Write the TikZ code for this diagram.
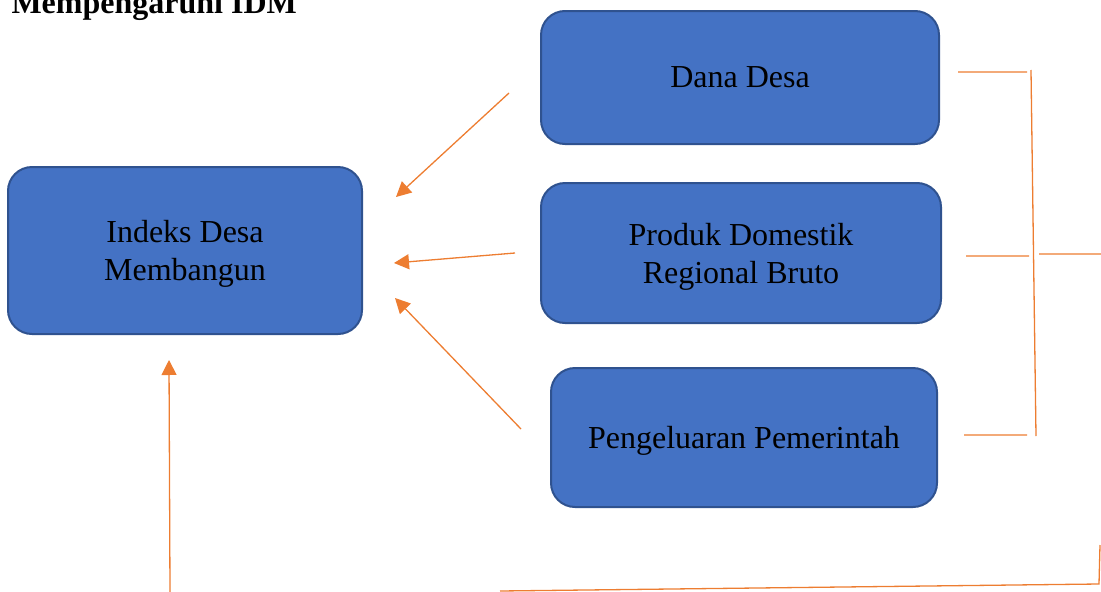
\documentclass[tikz,border=0pt]{standalone}
\usepackage{fontspec}
\setmainfont{Liberation Serif}
\usetikzlibrary{arrows.meta}
\definecolor{boxblue}{HTML}{4472C4}
\definecolor{boxline}{HTML}{2F528F}
\definecolor{linkorange}{HTML}{ED7D31}

\begin{document}
\begin{tikzpicture}[
x=1pt, y=-1pt,
font=\fontsize{32}{38}\selectfont,
varbox/.style={
rectangle,
rounded corners=24pt,
draw=boxline,
line width=2pt,
fill=boxblue,
align=center,
inner sep=0 pt,
text depth=-3pt,
},
link/.style={linkorange, line width=1.3pt},
linkarrow/.style={link, -{Triangle[length=15pt, width=15pt]}},
]

\useasboundingbox (0,0) rectangle (1101,592);

% title (cut at the top)
\node [anchor=base west, font=\fontsize{32}{38}\selectfont\bfseries] at (8,13) (title)
{Mempengaruhi IDM};

% variable boxes
\node [varbox, minimum width=354pt, minimum height=167pt] at (185,250.5) (idm)
{Indeks Desa\\Membangun};
\node [varbox, minimum width=398pt, minimum height=133pt] at (740,77.5) (dd)
{Dana Desa};
\node [varbox, minimum width=400pt, minimum height=140pt] at (741,253) (pdrb)
{Produk Domestik\\Regional Bruto};
\node [varbox, minimum width=386pt, minimum height=139pt] at (744,437.5) (pp)
{Pengeluaran Pemerintah};

\path
% arrow ends
(509,93) coordinate(dd1)
(396,197) coordinate(idm1)
(515,253) coordinate(pdrb1)
(394,263) coordinate(idm2)
(521,429) coordinate(pp1)
(395,298) coordinate(idm3)
(170,592) coordinate(low1)
(169,360) coordinate(idm4)
% bracket
(958,72) coordinate(b1)
(1027,72) coordinate(b1e)
(966,256) coordinate(b2)
(1029,256) coordinate(b2e)
(964,435) coordinate(b3)
(1027,435) coordinate(b3e)
(1031,70) coordinate(bt)
(1036,436) coordinate(bb)
(1039,254) coordinate(bm)
(1101,254) coordinate(bme)
% bottom line
(500,591) coordinate(l1)
(1099,584) coordinate(l2)
(1100,545) coordinate(l3)
;

% arrows into IDM
\draw [linkarrow] (dd1) -- (idm1);
\draw [linkarrow] (pdrb1) -- (idm2);
\draw [linkarrow] (pp1) -- (idm3);
\draw [linkarrow] (low1) -- (idm4);

% bracket round the three variables
\draw [link]
(b1) -- (b1e)
(b2) -- (b2e)
(b3) -- (b3e)
(bt) -- (bb)
(bm) -- (bme)
;

% joint line at the bottom
\draw [link] (l1) -- (l2) -- (l3);

\end{tikzpicture}
\end{document}
